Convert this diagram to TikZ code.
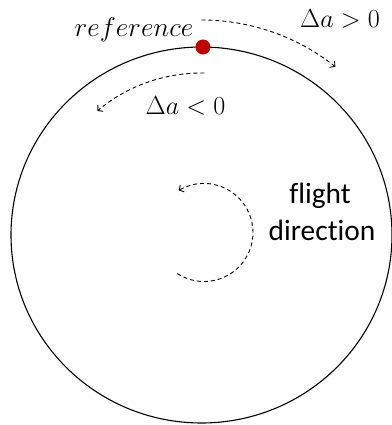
\documentclass[tikz,border=0pt]{standalone}
\usepackage{fontspec}
\newfontfamily\calibri[Ligatures=NoCommon]{Carlito}
\usetikzlibrary{arrows.meta}
\definecolor{refred}{RGB}{192,0,0}
\begin{document}
\begin{tikzpicture}[x=1bp,y=1bp,
  dasharrow/.style={line width=0.9bp, dash pattern=on 4bp off 3bp,
    -{Straight Barb[length=3.5bp,width=8bp]}},
  mathlbl/.style={anchor=base, inner sep=0pt, scale=1.05, font=\fontsize{24.88}{28}\selectfont},
  sanslbl/.style={anchor=base, inner sep=0pt, font=\calibri\fontsize{29.5}{36}\selectfont}]
\useasboundingbox (0,0) rectangle (392,425);
\coordinate (c) at (201.5,190);
\draw[line width=1.1bp] (c) ellipse [x radius=190.5, y radius=188];
\node[circle, fill=refred, minimum size=15bp, inner sep=0pt] (ref) at (203,378) {};
\node[anchor=base, inner sep=0pt, scale=1.1, font=\fontsize{24.88}{30}\selectfont] (reflabel) at (134,388) {$reference$};
\node[mathlbl] (pos) at (340,397) {$\Delta a > 0$};
\node[mathlbl] (neg) at (185.5,310) {$\Delta a < 0$};
\draw[dasharrow] ([shift={(90:215)}]c) arc[start angle=90, end angle=51.5, radius=215];
\draw[dasharrow] ([shift={(89:162)}]c) arc[start angle=89, end angle=130, radius=162];
\coordinate (fc) at (204,192.5);
\draw[dasharrow] ([shift={(-123:49)}]fc) arc[start angle=-123, end angle=121, radius=49];
\node[sanslbl] (flight) at (320,222) {flight};
\node[sanslbl] (dir) at (322,185) {direction};
\end{tikzpicture}
\end{document}
